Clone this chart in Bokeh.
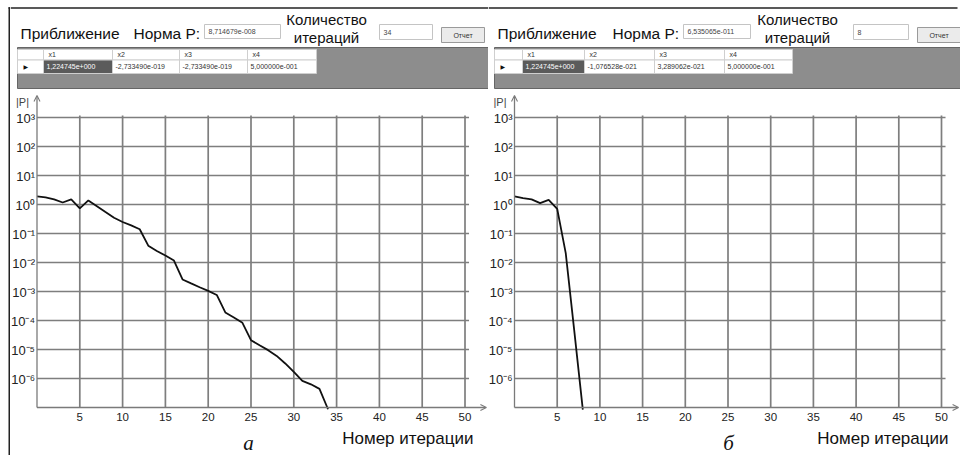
from bokeh.plotting import figure
from bokeh.layouts import row, column
from bokeh.models import Range1d, Arrow, OpenHead
from bokeh.core.properties import value
from bokeh.embed import file_html
from bokeh.resources import INLINE

# ---------------- data ----------------
iter_a = list(range(35))
norm_a = [1.9, 1.75, 1.5, 1.17, 1.5, 0.74, 1.38, 0.87, 0.55, 0.35,
          0.25, 0.19, 0.14, 0.038, 0.025, 0.0174, 0.0117, 0.0026, 0.0019, 0.0014,
          0.00105, 0.00076, 0.00019, 0.000126, 0.000083, 0.000021, 0.000014,
          0.0000095, 0.000006, 0.0000033, 0.0000017, 8.3e-7, 6.3e-7, 4.4e-7,
          8.714679e-8]
iter_b = list(range(9))
norm_b = [1.9, 1.65, 1.5, 1.12, 1.45, 0.71, 0.021, 4.4e-5, 8.5e-8]

x_ticks = [5, 10, 15, 20, 25, 30, 35, 40, 45, 50]
x_tick_labels = [str(t) for t in x_ticks]
y_ticks = [1e-6, 1e-5, 1e-4, 1e-3, 1e-2, 1e-1, 1e0, 1e1, 1e2, 1e3]
y_tick_labels = ["10⁻⁶", "10⁻⁵", "10⁻⁴", "10⁻³", "10⁻²", "10⁻¹",
                 "10⁰", "10¹", "10²", "10³"]

col_names = ["x1", "x2", "x3", "x4"]
sol_a = ["1,224745e+000", "-2,733490e-019", "-2,733490e-019", "5,000000e-001"]
sol_b = ["1,224745e+000", "-1,076528e-021", "3,289062e-021", "5,000000e-001"]
normP_a = "8,714679e-008"
normP_b = "6,535065e-011"
count_a = "34"
count_b = "8"

x_axis_title = "Номер итерации"
y_axis_title = "|P|"
panel_letters = ["а", "б"]

# ---------------- style ----------------
FONT = "Liberation Sans"
GRID = "#7e7e7e"
AXC = "#7a7a7a"
PX_DEC = 29.0                       # pixels per decade
Y_BOTTOM = 1e-7                      # x-axis position
Y_START = 10 ** (-7 - 48 / PX_DEC)
Y_END = 10 ** (-7 + 315 / PX_DEC)
Y_ARROW = 10 ** 3.76
GRID_TOP = 10 ** 3.07
GRID_RIGHT = 50.47
HDR_H = 92
PLOT_H = 363
TOTAL_H = HDR_H + PLOT_H


def make_header(x0, x1, L, normP, count, sol, line_end):
    p = figure(width=x1 - x0, height=HDR_H, x_range=Range1d(x0, x1),
               y_range=Range1d(HDR_H, 0), x_axis_type=None, y_axis_type=None,
               toolbar_location=None, output_backend="svg", min_border=0,
               outline_line_color=None, background_fill_color="white",
               border_fill_color="white", frame_align=False)
    p.xgrid.visible = False
    p.ygrid.visible = False
    # top frame line
    p.segment(x0=[x0], y0=[7.5], x1=[line_end], y1=[7.5], line_color="#222", line_width=1.6)
    # labels
    p.text(x=[L["lab1"], L["lab2"]], y=[33, 33], text=["Приближение", "Норма P:"],
           text_font=value(FONT), text_font_size="15.5px", text_color="#111",
           text_baseline="middle", text_align="left")
    p.text(x=[L["lab3"], L["lab3"]], y=[19, 37], text=["Количество", "итераций"],
           text_font=value(FONT), text_font_size="15px", text_color="#111",
           text_baseline="middle", text_align="center")
    # text boxes
    for (l, r, t, b), txt in ((L["tb1"], normP), (L["tb2"], count)):
        p.quad(left=[l], right=[r], top=[t], bottom=[b], fill_color="white",
               line_color="#c4c4c4", line_width=1)
        p.text(x=[l + 4], y=[(t + b) / 2], text=[txt], text_font=value(FONT),
               text_font_size="7px", text_color="#444", text_baseline="middle")
    # button
    l, r, t, b = L["btn"]
    p.quad(left=[l], right=[r], top=[t], bottom=[b], fill_color="#ebebeb",
           line_color="#9a9a9a", line_width=1)
    p.text(x=[(l + r) / 2], y=[(t + b) / 2], text=["Отчет"], text_font=value(FONT),
           text_font_size="7px", text_color="#333", text_baseline="middle",
           text_align="center")
    # data grid
    gl, gr, gt, gb = L["grid"]
    p.quad(left=[gl], right=[gr], top=[gt], bottom=[gb], fill_color="#8d8d8d",
           line_color="#666", line_width=1)
    cols = L["cols"]
    r0, r1, r2 = 49, 59.5, 73
    lefts = cols[:-1]
    rights = cols[1:]
    p.quad(left=lefts, right=rights, top=[r0] * 5, bottom=[r1] * 5,
           fill_color="white", line_color="#cfcfcf", line_width=1)
    fills = ["white", "#5b5b5b", "white", "white", "white"]
    p.quad(left=lefts, right=rights, top=[r1] * 5, bottom=[r2] * 5,
           fill_color=fills, line_color="#cfcfcf", line_width=1)
    p.text(x=[c + 5 for c in cols[1:5]], y=[(r0 + r1) / 2] * 4, text=col_names,
           text_font=value(FONT), text_font_size="7px", text_color="#333",
           text_baseline="middle")
    p.text(x=[c + 3 for c in cols[1:5]], y=[(r1 + r2) / 2] * 4, text=sol,
           text_font=value(FONT), text_font_size="7px",
           text_color=["white", "#333", "#333", "#333"], text_baseline="middle")
    p.text(x=[cols[0] + 6], y=[(r1 + r2) / 2], text=["▶"], text_font=value("DejaVu Sans"),
           text_font_size="6px", text_color="#111", text_baseline="middle")
    return p


def make_plot(width, x_start, x_end, arrow_x, iters, norms, title_x, letter, letter_x):
    p = figure(width=width, height=PLOT_H, x_range=Range1d(x_start, x_end),
               y_range=Range1d(Y_START, Y_END), y_axis_type="log",
               x_axis_location=None, y_axis_location=None,
               toolbar_location=None, output_backend="svg", min_border=0,
               outline_line_color=None, background_fill_color="white",
               border_fill_color="white", frame_align=False)
    p.xgrid.visible = False
    p.ygrid.visible = False

    n = len(x_ticks)
    m = len(y_ticks)
    # grid
    p.segment(x0=x_ticks, y0=[Y_BOTTOM] * n, x1=x_ticks, y1=[GRID_TOP] * n,
              line_color=GRID, line_width=1.7)
    p.segment(x0=[0] * m, y0=y_ticks, x1=[GRID_RIGHT] * m, y1=y_ticks,
              line_color=GRID, line_width=1.7)

    # axes with arrows
    p.add_layout(Arrow(end=OpenHead(size=6, line_color=AXC, line_width=1.1),
                       x_start=0, y_start=Y_BOTTOM, x_end=0, y_end=Y_ARROW,
                       line_color=AXC, line_width=1.3))
    p.add_layout(Arrow(end=OpenHead(size=6, line_color=AXC, line_width=1.1),
                       x_start=0, y_start=Y_BOTTOM, x_end=arrow_x, y_end=Y_BOTTOM,
                       line_color=AXC, line_width=1.3))

    # tick labels
    p.text(x=[0] * m, y=y_ticks, text=y_tick_labels, x_offset=-2, y_offset=1,
           text_font=value(FONT), text_font_size="13px", text_color="#222",
           text_align="right", text_baseline="middle")
    p.text(x=x_ticks, y=[Y_BOTTOM] * n, text=x_tick_labels, y_offset=9,
           text_font=value(FONT), text_font_size="11.5px", text_color="#222",
           text_align="center", text_baseline="middle")
    p.text(x=[0], y=[Y_ARROW], text=[y_axis_title], x_offset=-8, y_offset=7,
           text_font=value(FONT), text_font_size="11px", text_color="#444",
           text_align="right", text_baseline="middle")
    p.text(x=[title_x], y=[Y_BOTTOM], text=[x_axis_title], y_offset=31,
           text_font=value(FONT), text_font_size="17px", text_color="#111",
           text_align="right", text_baseline="middle")
    p.text(x=[letter_x], y=[Y_BOTTOM], text=[letter], y_offset=35,
           text_font=value("Liberation Serif"), text_font_style="italic",
           text_font_size="21px", text_color="#111",
           text_align="center", text_baseline="middle")

    # data
    p.line(iters, norms, line_color="#111", line_width=1.8)
    return p


L_a = dict(lab1=20, lab2=133, lab3=326, tb1=(204, 280, 24, 38), tb2=(379, 432, 24, 39),
           btn=(441, 484, 27, 42), grid=(17, 489, 47, 88),
           cols=[17, 43, 112, 179, 247, 316])
L_b = dict(lab1=497, lab2=612, lab3=797, tb1=(683, 750, 24, 38), tb2=(853, 908, 24, 39),
           btn=(917, 960, 27, 42), grid=(494, 975, 47, 88),
           cols=[494, 522, 584, 654, 724, 792])

hdr_a = make_header(10, 488, L_a, normP_a, count_a, sol_a, 488)
hdr_b = make_header(488, 960, L_b, normP_b, count_b, sol_b, 957)

SCALE_A, ORIG_A = 8.56, 36.5
SCALE_B, ORIG_B = 8.54, 514.0
plot_a = make_plot(478, (10 - ORIG_A) / SCALE_A, (488 - ORIG_A) / SCALE_A, 52.5,
                   iter_a, norm_a, 50.99, panel_letters[0], 24.7)
plot_b = make_plot(472, (488 - ORIG_B) / SCALE_B, (960 - ORIG_B) / SCALE_B, 52.0,
                   iter_b, norm_b, 50.82, panel_letters[1], 25.06)

# left frame strip (page margin + border line)
strip = figure(width=10, height=TOTAL_H, x_range=Range1d(0, 10),
               y_range=Range1d(TOTAL_H, 0), x_axis_type=None, y_axis_type=None,
               toolbar_location=None, output_backend="svg", min_border=0,
               outline_line_color=None, background_fill_color="white",
               border_fill_color="white", frame_align=False)
strip.xgrid.visible = False
strip.ygrid.visible = False
strip.quad(left=[8], right=[9.6], top=[6.7], bottom=[TOTAL_H], fill_color="#222",
           line_color=None)
strip.segment(x0=[8], y0=[7.5], x1=[10], y1=[7.5], line_color="#222", line_width=1.6)

layout = row(strip, column(hdr_a, plot_a), column(hdr_b, plot_b))

open("out.html", "w").write(file_html(layout, INLINE))
